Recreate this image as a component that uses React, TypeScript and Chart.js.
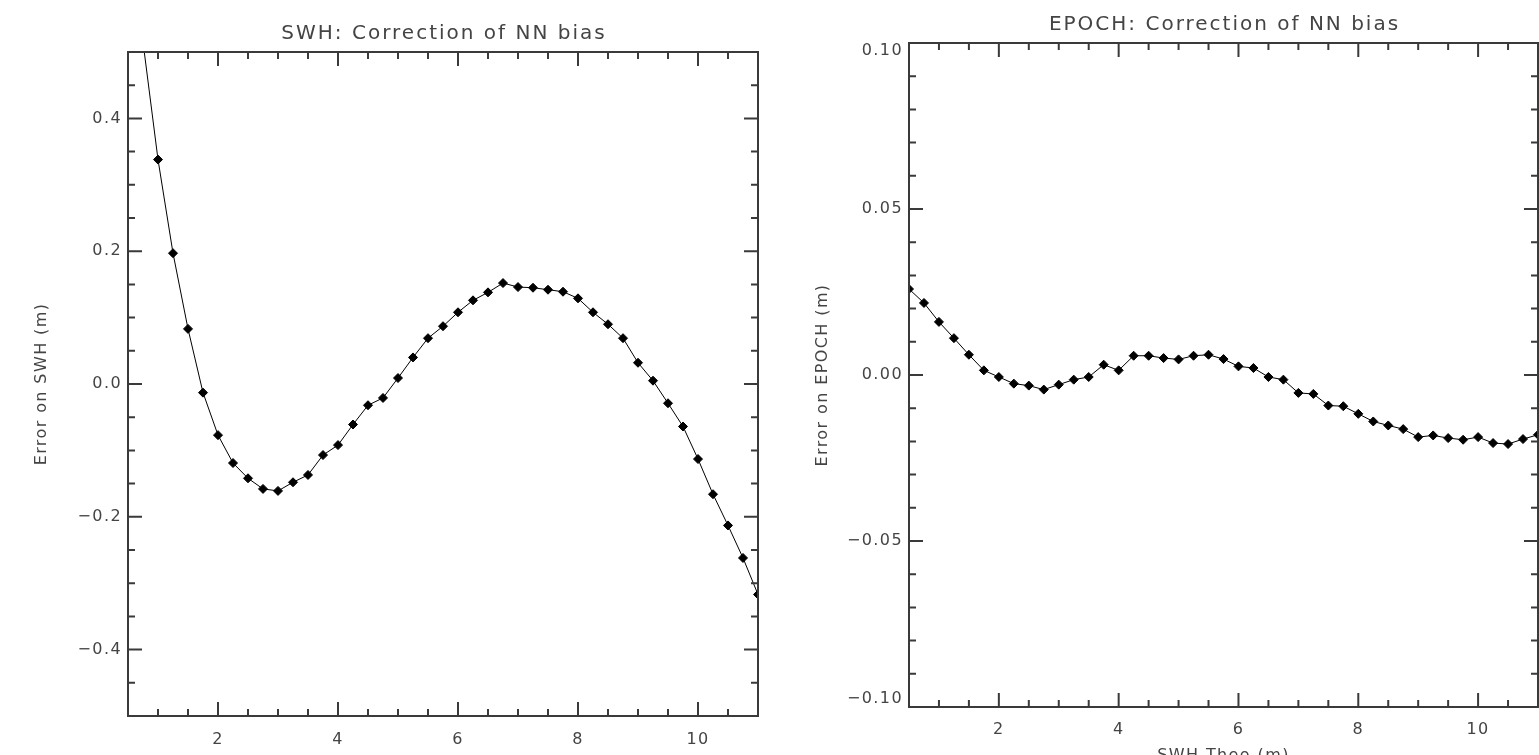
import React, { useEffect, useRef } from 'react';
import { Chart, registerables } from 'chart.js';

Chart.register(...registerables);

// ---------- data ----------
const swhX = [0.75, 1.0, 1.25, 1.5, 1.75, 2.0, 2.25, 2.5, 2.75, 3.0, 3.25, 3.5, 3.75, 4.0, 4.25, 4.5, 4.75, 5.0, 5.25, 5.5, 5.75, 6.0, 6.25, 6.5, 6.75, 7.0, 7.25, 7.5, 7.75, 8.0, 8.25, 8.5, 8.75, 9.0, 9.25, 9.5, 9.75, 10.0, 10.25, 10.5, 10.75, 11.0];
const swhBias = [0.515, 0.338, 0.197, 0.083, -0.013, -0.077, -0.119, -0.142, -0.158, -0.161, -0.148, -0.137, -0.107, -0.092, -0.061, -0.032, -0.021, 0.009, 0.040, 0.069, 0.087, 0.108, 0.126, 0.138, 0.152, 0.146, 0.145, 0.142, 0.139, 0.129, 0.108, 0.090, 0.069, 0.032, 0.005, -0.029, -0.064, -0.113, -0.166, -0.213, -0.262, -0.317];

const epochX = [0.5, 0.75, 1.0, 1.25, 1.5, 1.75, 2.0, 2.25, 2.5, 2.75, 3.0, 3.25, 3.5, 3.75, 4.0, 4.25, 4.5, 4.75, 5.0, 5.25, 5.5, 5.75, 6.0, 6.25, 6.5, 6.75, 7.0, 7.25, 7.5, 7.75, 8.0, 8.25, 8.5, 8.75, 9.0, 9.25, 9.5, 9.75, 10.0, 10.25, 10.5, 10.75, 11.0];
const epochBias = [0.0259, 0.0217, 0.0160, 0.0111, 0.0061, 0.0014, -0.0006, -0.0026, -0.0032, -0.0044, -0.0029, -0.0014, -0.0006, 0.0031, 0.0014, 0.0058, 0.0058, 0.0051, 0.0047, 0.0058, 0.0061, 0.0048, 0.0026, 0.0021, -0.0006, -0.0014, -0.0054, -0.0057, -0.0092, -0.0094, -0.0117, -0.0140, -0.0152, -0.0163, -0.0187, -0.0182, -0.0190, -0.0195, -0.0187, -0.0205, -0.0208, -0.0193, -0.0180];

const xTickValues = [2, 4, 6, 8, 10];
const xTickLabels = ['2', '4', '6', '8', '10'];
const swhYTickValues = [-0.4, -0.2, 0, 0.2, 0.4];
const swhYTickLabels = ['\u22120.4', '\u22120.2', '0.0', '0.2', '0.4'];
const epochYTickValues = [-0.1, -0.05, 0, 0.05, 0.1];
const epochYTickLabels = ['\u22120.10', '\u22120.05', '0.00', '0.05', '0.10'];

// ---------- styling ----------
const FONT = "'DejaVu Sans', 'Noto Sans', sans-serif";
const TEXT = '#444444';
const AXIS = '#3a3a3a';

type Spec = {
  canvasLeft: number;
  canvasWidth: number;
  canvasHeight: number;
  area: { left: number; right: number; top: number; bottom: number };
  xMin: number; xMax: number; yMin: number; yMax: number;
  xMinorStep: number; yMinorStep: number;
  yMajor: number[]; yLabels: string[];
  title: string; yTitle: string; xTitle: string;
  xs: number[]; ys: number[];
  xLabelPad: number;
};

function stepValues(min: number, max: number, step: number): number[] {
  const out: number[] = [];
  const n = Math.round((max - min) / step);
  for (let i = 1; i < n; i++) out.push(+(min + i * step).toFixed(6));
  return out;
}

const frameTicks = {
  id: 'frameTicks',
  beforeDraw(chart: any) {
    (chart.ctx as any).letterSpacing = '1.4px';
  },
  afterDatasetsDraw(chart: any, _args: any, opts: any) {
    const { ctx, chartArea, scales } = chart;
    const { left, right, top, bottom } = chartArea;
    const x = scales.x;
    const y = scales.y;
    ctx.save();
    ctx.strokeStyle = AXIS;
    ctx.lineWidth = 2;
    ctx.strokeRect(left, top, right - left, bottom - top);
    ctx.beginPath();
    const isMajor = (list: number[], v: number) => list.some((m) => Math.abs(m - v) < 1e-6);
    for (const v of stepValues(opts.xMin, opts.xMax, opts.xMinorStep)) {
      const px = x.getPixelForValue(v);
      const len = isMajor(opts.xMajor, v) ? 14 : 7;
      ctx.moveTo(px, bottom); ctx.lineTo(px, bottom - len);
      ctx.moveTo(px, top); ctx.lineTo(px, top + len);
    }
    for (const v of stepValues(opts.yMin, opts.yMax, opts.yMinorStep)) {
      const py = y.getPixelForValue(v);
      const len = isMajor(opts.yMajor, v) ? 14 : 7;
      ctx.moveTo(left, py); ctx.lineTo(left + len, py);
      ctx.moveTo(right, py); ctx.lineTo(right - len, py);
    }
    ctx.stroke();
    ctx.fillStyle = TEXT;
    ctx.font = `20px ${FONT}`;
    (ctx as any).letterSpacing = '2px';
    ctx.textAlign = 'center';
    ctx.textBaseline = 'middle';
    ctx.fillText(opts.title, (left + right) / 2 + 1, top - 18.5);
    ctx.restore();
  },
  afterDraw(chart: any) {
    (chart.ctx as any).letterSpacing = '0px';
  },
};

function Panel({ spec }: { spec: Spec }) {
  const ref = useRef<HTMLCanvasElement | null>(null);
  useEffect(() => {
    if (!ref.current) return;
    const s = spec;
    const yLabel = (v: number) => {
      const i = s.yMajor.indexOf(v);
      const t = s.yLabels[i];
      if (Math.abs(v - s.yMax) < 1e-9) return ['', t];
      if (Math.abs(v - s.yMin) < 1e-9) return [t, ''];
      return t;
    };
    const chart = new Chart(ref.current, {
      type: 'line',
      data: {
        datasets: [
          {
            data: s.xs.map((v, i) => ({ x: v, y: s.ys[i] })),
            borderColor: '#000',
            borderWidth: 1,
            pointStyle: 'rectRot',
            pointRadius: 4.5,
            pointBackgroundColor: '#000',
            pointBorderColor: '#000',
            pointBorderWidth: 1,
            tension: 0,
            clip: 0,
          } as any,
        ],
      },
      options: {
        animation: false,
        responsive: false,
        devicePixelRatio: 1,
        events: [],
        layout: {
          padding: { left: 0, top: s.area.top, right: s.canvasWidth - s.area.right, bottom: 0 },
        },
        plugins: {
          legend: { display: false },
          tooltip: { enabled: false },
          title: { display: false },
          frameTicks: {
            title: s.title,
            xMin: s.xMin, xMax: s.xMax, yMin: s.yMin, yMax: s.yMax,
            xMinorStep: s.xMinorStep, yMinorStep: s.yMinorStep,
            xMajor: xTickValues, yMajor: s.yMajor,
          },
        } as any,
        scales: {
          x: {
            type: 'linear',
            position: 'bottom',
            min: s.xMin,
            max: s.xMax,
            grid: { display: false, drawTicks: false, tickLength: 0 },
            border: { display: false },
            afterBuildTicks: (scale: any) => {
              scale.ticks = xTickValues.map((v) => ({ value: v }));
            },
            afterFit: (scale: any) => {
              scale.height = s.canvasHeight - s.area.bottom;
            },
            ticks: {
              autoSkip: false,
              maxRotation: 0,
              padding: s.xLabelPad,
              color: TEXT,
              font: { family: FONT, size: 16 },
              callback: (v: any) => xTickLabels[xTickValues.indexOf(Number(v))],
            },
            title: {
              display: true,
              text: s.xTitle,
              color: TEXT,
              font: { family: FONT, size: 16 },
              padding: { top: 0, bottom: s.canvasHeight - (s.area.bottom + 48.5) - 9.6 },
            },
          },
          y: {
            type: 'linear',
            position: 'left',
            min: s.yMin,
            max: s.yMax,
            grid: { display: false, drawTicks: false, tickLength: 0 },
            border: { display: false },
            afterBuildTicks: (scale: any) => {
              scale.ticks = s.yMajor.map((v) => ({ value: v }));
            },
            afterFit: (scale: any) => {
              scale.width = s.area.left;
            },
            ticks: {
              autoSkip: false,
              padding: 6,
              color: TEXT,
              font: { family: FONT, size: 16, lineHeight: 1.0 },
              callback: (v: any) => yLabel(Number(v)),
            },
            title: {
              display: true,
              text: s.yTitle,
              color: TEXT,
              font: { family: FONT, size: 16 },
              padding: { top: s.area.left - 86 - 9.6, bottom: 0 },
            },
          },
        },
      } as any,
      plugins: [frameTicks as any],
    });
    return () => chart.destroy();
  }, [spec]);
  return (
    <canvas
      ref={ref}
      width={spec.canvasWidth}
      height={spec.canvasHeight}
      style={{ position: 'absolute', left: spec.canvasLeft, top: 0, width: spec.canvasWidth, height: spec.canvasHeight }}
    />
  );
}

const leftSpec: Spec = {
  canvasLeft: 0,
  canvasWidth: 770,
  canvasHeight: 800,
  area: { left: 128, right: 758, top: 52, bottom: 716 },
  xMin: 0.5, xMax: 11, yMin: -0.5, yMax: 0.5,
  xMinorStep: 0.5, yMinorStep: 0.05,
  yMajor: swhYTickValues, yLabels: swhYTickLabels,
  title: 'SWH: Correction of NN bias',
  yTitle: 'Error on SWH (m)',
  xTitle: 'SWH Theo (m)',
  xs: swhX, ys: swhBias,
  xLabelPad: 14,
};

const rightSpec: Spec = {
  canvasLeft: 770,
  canvasWidth: 780,
  canvasHeight: 800,
  area: { left: 139, right: 768, top: 43, bottom: 707 },
  xMin: 0.5, xMax: 11, yMin: -0.1, yMax: 0.1,
  xMinorStep: 0.5, yMinorStep: 0.01,
  yMajor: epochYTickValues, yLabels: epochYTickLabels,
  title: 'EPOCH: Correction of NN bias',
  yTitle: 'Error on EPOCH (m)',
  xTitle: 'SWH Theo (m)',
  xs: epochX, ys: epochBias,
  xLabelPad: 13,
};

export default function App() {
  return (
    <div
      style={{
        position: 'fixed',
        left: 0,
        top: 0,
        width: 1539,
        height: 755,
        overflow: 'hidden',
        background: '#ffffff',
      }}
    >
      <Panel spec={leftSpec} />
      <Panel spec={rightSpec} />
    </div>
  );
}
